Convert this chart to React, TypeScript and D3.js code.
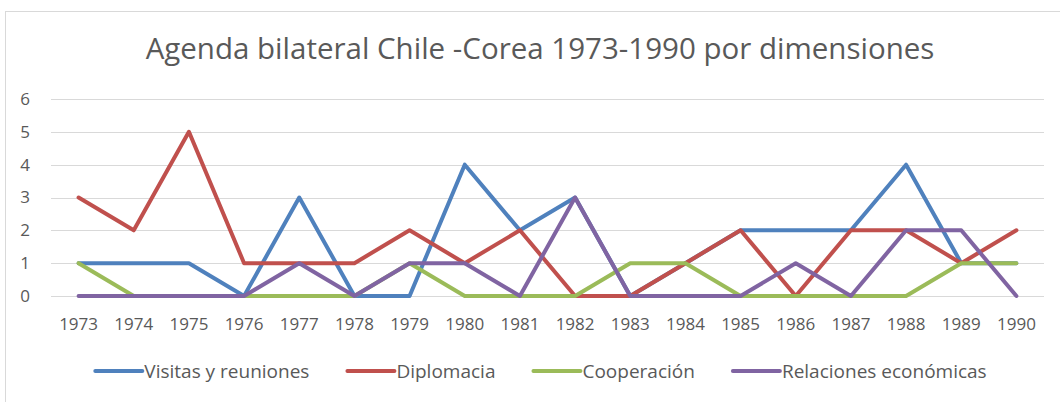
import React, { useEffect, useRef } from "react"
import * as d3 from "d3"

const years = ["1973", "1974", "1975", "1976", "1977", "1978", "1979", "1980", "1981", "1982", "1983", "1984", "1985", "1986", "1987", "1988", "1989", "1990"]
const visitas = [1, 1, 1, 0, 3, 0, 0, 4, 2, 3, 0, 1, 2, 2, 2, 4, 1, 1]
const diplomacia = [3, 2, 5, 1, 1, 1, 2, 1, 2, 0, 0, 1, 2, 0, 2, 2, 1, 2]
const cooperacion = [1, 0, 0, 0, 0, 0, 1, 0, 0, 0, 1, 1, 0, 0, 0, 0, 1, 1]
const economicas = [0, 0, 0, 0, 1, 0, 1, 1, 0, 3, 0, 0, 0, 1, 0, 2, 2, 0]
const yTicks = [0, 1, 2, 3, 4, 5, 6]

const series = [
  { name: "Visitas y reuniones", values: visitas, color: "#4F81BD" },
  { name: "Diplomacia", values: diplomacia, color: "#C0504D" },
  { name: "Cooperación", values: cooperacion, color: "#9BBB59" },
  { name: "Relaciones económicas", values: economicas, color: "#8064A2" },
]

const W = 1060
const H = 402
const FONT = "'Open Sans', sans-serif"
const TEXT = "#595959"

export default function App() {
  const svgRef = useRef<SVGSVGElement>(null)

  useEffect(() => {
    if (!svgRef.current) return
    const svg = d3.select(svgRef.current)
    svg.selectAll("*").remove()

    // chart frame
    svg.append("rect")
      .attr("x", 5.5).attr("y", 11.5)
      .attr("width", W + 10).attr("height", H + 10)
      .attr("fill", "#fff").attr("stroke", "#d9d9d9")

    svg.append("text")
      .attr("x", 540).attr("y", 59)
      .attr("text-anchor", "middle")
      .attr("fill", TEXT)
      .style("font-family", FONT)
      .style("font-size", "29.5px")
      .text("Agenda bilateral Chile -Corea 1973-1990 por dimensiones")

    const x = d3.scaleBand().domain(years).range([51, 1044])
    const y = d3.scaleLinear().domain([0, 6]).range([296, 99])
    const cx = (d: string) => (x(d) || 0) + x.bandwidth() / 2

    svg.append("g").selectAll("line")
      .data(yTicks)
      .enter().append("line")
      .attr("x1", 51).attr("x2", 1044)
      .attr("y1", d => Math.round(y(d)) + 0.5)
      .attr("y2", d => Math.round(y(d)) + 0.5)
      .attr("stroke", "#d9d9d9").attr("stroke-width", 1)

    svg.append("g").selectAll("text")
      .data(yTicks)
      .enter().append("text")
      .attr("x", 25).attr("y", d => y(d))
      .attr("dy", "0.35em")
      .attr("text-anchor", "middle")
      .attr("fill", TEXT)
      .style("font-family", FONT)
      .style("font-size", "17px")
      .text(d => d)

    svg.append("g").selectAll("text")
      .data(years)
      .enter().append("text")
      .attr("x", d => cx(d)).attr("y", 324)
      .attr("dy", "0.35em")
      .attr("text-anchor", "middle")
      .attr("fill", TEXT)
      .style("font-family", FONT)
      .style("font-size", "17px")
      .text(d => d)

    const line = d3.line<number>()
      .x((_, i) => cx(years[i]))
      .y(d => y(d))

    series.forEach(s => {
      svg.append("path")
        .datum(s.values)
        .attr("fill", "none")
        .attr("stroke", s.color)
        .attr("stroke-width", 4)
        .attr("stroke-linejoin", "round")
        .attr("stroke-linecap", "round")
        .attr("d", line)
    })

    // legend, laid out from measured text widths
    const legend = svg.append("g")
    let pos = 0
    const lineW = 47
    series.forEach((s, i) => {
      const g = legend.append("g").attr("transform", `translate(${pos},0)`)
      g.append("line")
        .attr("x1", 0).attr("x2", lineW)
        .attr("y1", 0).attr("y2", 0)
        .attr("stroke", s.color).attr("stroke-width", 4)
        .attr("stroke-linecap", "round")
      const t = g.append("text")
        .attr("x", lineW + 2).attr("y", 0)
        .attr("dy", "0.35em")
        .attr("fill", TEXT)
        .style("font-family", FONT)
        .style("font-size", "19px")
        .text(s.name)
      const tw = (t.node() as SVGTextElement).getComputedTextLength()
      pos += lineW + 2 + tw + (i < series.length - 1 ? 38 : 0)
    })
    legend.attr("transform", `translate(${541 - pos / 2},371)`)
  }, [])

  return (
    <div style={{ position: "absolute", left: 0, top: 0 }}>
      <svg ref={svgRef} width={W} height={H} style={{ display: "block" }} />
    </div>
  )
}
